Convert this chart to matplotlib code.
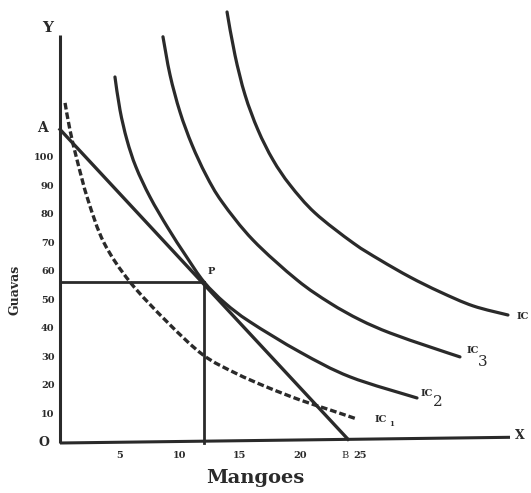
import matplotlib
matplotlib.use("Agg")
import matplotlib.pyplot as plt
from matplotlib.path import Path
from matplotlib.patches import PathPatch

# ---- data (Mangoes on x, Guavas on y) ----
ic1_x = [0.42, 0.83, 1.42, 2.33, 3.67, 5.83, 8.92, 11.92, 14.58, 17.25, 20.0, 22.5, 24.75]
ic1_y = [119.3, 109.8, 99.3, 85.3, 70.2, 56.5, 42.5, 30.9, 24.6, 19.6, 15.1, 11.6, 8.4]

ic2_x = [4.58, 5.0, 5.58, 6.33, 7.5, 9.0, 10.5, 12.0, 13.75, 15.83, 20.0, 24.17, 29.75]
ic2_y = [128.4, 116.8, 106.3, 96.8, 86.3, 75.4, 65.6, 56.5, 49.1, 42.5, 31.9, 23.2, 15.8]

ic3_x = [8.58, 9.17, 10.0, 11.0, 12.17, 13.5, 16.08, 19.75, 22.5, 25.0, 27.5, 30.83, 33.33]
ic3_y = [142.5, 129.1, 116.1, 104.6, 94.0, 84.6, 71.2, 57.2, 49.1, 43.2, 38.6, 33.7, 30.2]

ic4_x = [13.92, 14.58, 15.42, 16.5, 17.75, 19.17, 21.25, 24.42, 26.67, 29.17, 31.67, 34.42, 37.33]
ic4_y = [151.2, 136.1, 122.1, 109.8, 99.3, 90.5, 80.7, 70.2, 64.2, 58.2, 53.0, 48.1, 44.9]

budget_x = [0, 24.0]
budget_y = [110, 1.3]

p_x, p_y = 12.0, 56.5

x_ticks = [5, 10, 15, 20, 25]
x_tick_labels = ["5", "10", "15", "20", "25"]
y_ticks = [10, 20, 30, 40, 50, 60, 70, 80, 90, 100]
y_tick_labels = ["10", "20", "30", "40", "50", "60", "70", "80", "90", "100"]


def smooth_path(xs, ys):
    """Cubic Bezier path passing through the given points (Catmull-Rom tangents)."""
    pts = list(zip(xs, ys))
    verts = [pts[0]]
    codes = [Path.MOVETO]
    n = len(pts)
    for i in range(n - 1):
        p0 = pts[i - 1] if i > 0 else pts[i]
        p1 = pts[i]
        p2 = pts[i + 1]
        p3 = pts[i + 2] if i + 2 < n else pts[i + 1]
        c1 = (p1[0] + (p2[0] - p0[0]) / 6.0, p1[1] + (p2[1] - p0[1]) / 6.0)
        c2 = (p2[0] - (p3[0] - p1[0]) / 6.0, p2[1] - (p3[1] - p1[1]) / 6.0)
        verts += [c1, c2, p2]
        codes += [Path.CURVE4, Path.CURVE4, Path.CURVE4]
    return Path(verts, codes)


# ---- figure ----
fig = plt.figure(figsize=(5.31, 4.93), dpi=100)
ax = fig.add_axes([0, 0, 1, 1])
ax.set_xlim(-5.0, 39.25)
ax.set_ylim(-17.54, 155.4)
ax.axis("off")

ink = "#2a2a2a"
serif = "DejaVu Serif"

# axes
ax.plot([0, 0], [0, 143], color=ink, lw=2.2, solid_capstyle="butt")
ax.plot([0, 37.5], [0, 2.0], color=ink, lw=2.2, solid_capstyle="butt")

# indifference curves
ax.add_patch(PathPatch(smooth_path(ic1_x, ic1_y), fill=False, edgecolor=ink,
                       lw=2.4, linestyle=(0, (2.0, 0.9))))
for xs, ys in [(ic2_x, ic2_y), (ic3_x, ic3_y), (ic4_x, ic4_y)]:
    ax.add_patch(PathPatch(smooth_path(xs, ys), fill=False, edgecolor=ink,
                           lw=2.3, capstyle="round", joinstyle="round"))

# budget line
ax.plot(budget_x, budget_y, color=ink, lw=2.4)

# P guides
ax.plot([0, p_x], [p_y, p_y], color=ink, lw=2.0)
ax.plot([p_x, p_x], [p_y, 0], color=ink, lw=2.0)

# tick labels
for v, lab in zip(x_ticks, x_tick_labels):
    ax.text(v, -4.3, lab, ha="center", va="center", fontsize=7,
            fontweight="bold", family=serif, color=ink)
for v, lab in zip(y_ticks, y_tick_labels):
    ax.text(-0.45, v, lab, ha="right", va="center", fontsize=7,
            fontweight="bold", family=serif, color=ink)

# point / axis letters
ax.text(-1.3, 0, "O", ha="center", va="center", fontsize=9, fontweight="bold", family=serif, color=ink)
ax.text(-1.0, 145.5, "Y", ha="center", va="center", fontsize=11, fontweight="bold", family=serif, color=ink)
ax.text(-1.5, 110.5, "A", ha="center", va="center", fontsize=10, fontweight="bold", family=serif, color=ink)
ax.text(12.6, 60.0, "P", ha="center", va="center", fontsize=7, fontweight="bold", family=serif, color=ink)
ax.text(38.3, 2.8, "X", ha="center", va="center", fontsize=9, fontweight="bold", family=serif, color=ink)
ax.text(23.75, -4.3, "B", ha="center", va="center", fontsize=7, family=serif, color=ink)

# IC labels
ax.text(26.7, 8.3, "IC", ha="center", va="center", fontsize=7, fontweight="bold", family=serif, color=ink)
ax.text(27.6, 6.8, "1", ha="center", va="center", fontsize=5, fontweight="bold", family=serif, color=ink)
ax.text(30.6, 17.5, "IC", ha="center", va="center", fontsize=7, fontweight="bold", family=serif, color=ink)
ax.text(31.5, 14.3, "2", ha="center", va="center", fontsize=11, family=serif, color=ink)
ax.text(34.4, 32.5, "IC", ha="center", va="center", fontsize=7, fontweight="bold", family=serif, color=ink)
ax.text(35.2, 28.3, "3", ha="center", va="center", fontsize=11, family=serif, color=ink)
ax.text(38.6, 44.5, "IC", ha="center", va="center", fontsize=7, fontweight="bold", family=serif, color=ink)

# axis titles
ax.text(16.25, -12.3, "Mangoes", ha="center", va="center", fontsize=14, fontweight="bold", family=serif, color=ink)
ax.text(-3.75, 53.7, "Guavas", ha="center", va="center", rotation=90, fontsize=9, fontweight="bold", family=serif, color=ink)

fig.savefig("out.png", dpi=100, facecolor="white")
